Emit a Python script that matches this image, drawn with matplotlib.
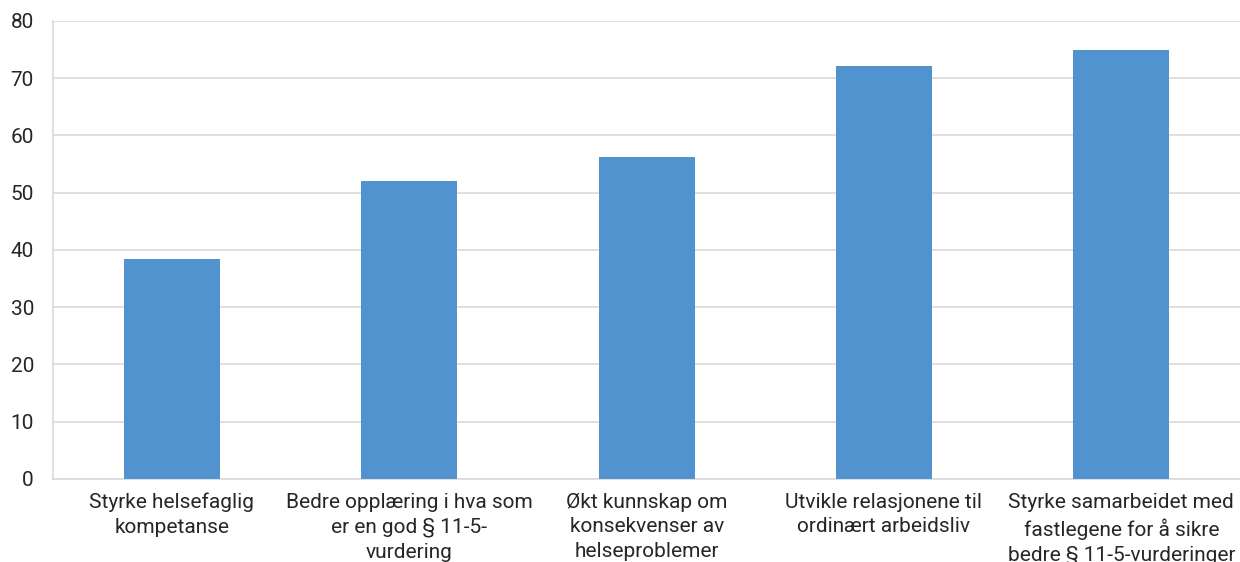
import matplotlib
matplotlib.use("Agg")
import matplotlib.pyplot as plt

categories = [
    "Styrke helsefaglig\nkompetanse",
    "Bedre opplæring i hva som\ner en god § 11-5-\nvurdering",
    "Økt kunnskap om\nkonsekvenser av\nhelseproblemer",
    "Utvikle relasjonene til\nordinært arbeidsliv",
    "Styrke samarbeidet med\nfastlegene for å sikre\nbedre § 11-5-vurderinger",
]
values = [38.4, 52.0, 56.2, 72.1, 74.9]
yticks = [0, 10, 20, 30, 40, 50, 60, 70, 80]

BAR_COLOR = "#5093cf"
GRID_COLOR = "#d9d9d9"
TEXT_COLOR = "#262626"

plt.rcParams["font.family"] = ["Roboto", "DejaVu Sans"]

fig = plt.figure(figsize=(12.4, 5.62), dpi=100)
ax = fig.add_axes([0.043, 0.148, 0.957, 0.815])

x = range(len(categories))
ax.bar(x, values, width=0.405, color=BAR_COLOR, zorder=3)

ax.set_xlim(-0.5, len(categories) - 0.5)
ax.set_ylim(0, 80)
ax.set_yticks(yticks)
ax.set_xticks(list(x))
ax.set_xticklabels(categories, fontsize=15, color=TEXT_COLOR, linespacing=1.38)
ax.tick_params(axis="y", labelsize=15, labelcolor=TEXT_COLOR, length=0, pad=14)
ax.tick_params(axis="x", length=0, pad=10)

ax.grid(axis="y", color=GRID_COLOR, linewidth=1.2, zorder=0)
for side in ["top", "right"]:
    ax.spines[side].set_visible(False)
ax.spines["left"].set_color(GRID_COLOR)
ax.spines["bottom"].set_color(GRID_COLOR)
ax.spines["left"].set_linewidth(1.2)
ax.spines["bottom"].set_linewidth(1.2)

fig.savefig("out.png", dpi=100)
